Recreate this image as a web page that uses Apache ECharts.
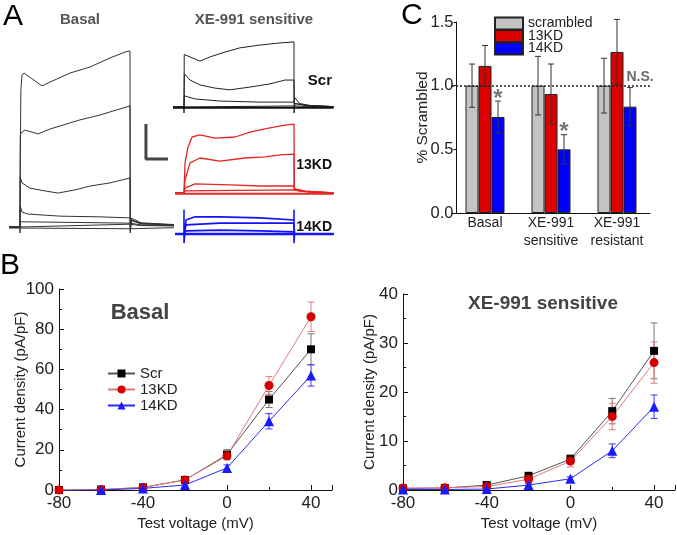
<!DOCTYPE html>
<html><head><meta charset="utf-8">
<script src="https://cdn.jsdelivr.net/npm/echarts/dist/echarts.min.js"></script>
<style>html,body{margin:0;padding:0;background:#fff}#chart{width:677px;height:535px}</style>
</head><body><div id="chart"></div>
<script>
// ================= DATA =================
// Panel B: I-V relations (mV -> pA/pF)
const voltages = [-80, -60, -40, -20, 0, 20, 40];
const basalScr    = [0, 0.2, 1.3, 5, 17.6, 45, 70];
const basalScrErr = [0.2, 0.2, 0.5, 0.8, 2.5, 4, 7.7];
const basal13     = [0, 0.2, 1.2, 5, 17, 52, 86.2];
const basal13Err  = [0.2, 0.2, 0.4, 0.8, 2, 4.5, 7.3];
const basal14     = [-0.3, 0, 0.8, 2.5, 11, 34.2, 57];
const basal14Err  = [0.2, 0.2, 0.3, 0.6, 1.5, 3.8, 5.3];
const xeScr    = [0.3, 0.4, 1.0, 2.9, 6.3, 16.1, 28.4];
const xeScrErr = [0.1, 0.1, 0.2, 0.4, 0.9, 2.6, 5.7];
const xe13     = [0.4, 0.45, 0.7, 2.2, 5.9, 15, 26];
const xe13Err  = [0.1, 0.1, 0.2, 0.4, 1.2, 2.7, 4.2];
const xe14     = [0.1, 0.1, 0.2, 1.0, 2.3, 8.0, 17];
const xe14Err  = [0.1, 0.1, 0.1, 0.3, 0.4, 1.4, 2.4];

// Panel C: normalised to scrambled
const cCategories = ['Basal', 'XE-991\nsensitive', 'XE-991\nresistant'];
const cScr    = [1, 1, 1];
const cScrErr = [0.17, 0.23, 0.215];
const c13     = [1.155, 0.935, 1.265];
const c13Err  = [0.16, 0.235, 0.255];
const c14     = [0.754, 0.50, 0.835];
const c14Err  = [0.125, 0.115, 0.15];
const sigLabels = ['*', '*', 'N.S.'];

// Panel A: current traces [time ms, current nA]
const basalT1 = [[-100,0],[0,0],[0,-0.17],[2,2.0],[8,3.9],[18,4.34],[36,4.4],[200,4.03],[273,4.14],[455,4.4],[636,4.57],[818,4.83],[955,5.0],[1000,5.03],[1002,-0.17],[1015,0.25],[1100,0.12],[1400,0.07]];
const basalT2 = [[-100,0],[0,0],[3,2.6],[9,2.69],[45,2.77],[164,2.66],[273,2.8],[545,3.06],[727,3.2],[1000,3.46],[1002,-0.1],[1015,0.2],[1100,0.1],[1400,0.06]];
const basalT3 = [[-100,0],[0,0],[2,1.43],[18,1.26],[91,1.11],[227,1.03],[345,0.97],[500,1.06],[636,1.17],[818,1.26],[1000,1.4],[1002,0],[1015,0.18],[1100,0.09],[1400,0.05]];
const basalT4 = [[-100,0],[0,0],[2,0.6],[18,0.43],[73,0.37],[364,0.31],[727,0.29],[1000,0.26],[1015,0.2],[1100,0.1],[1400,0.06]];
const basalT5 = [[-100,0],[0,0],[2,0.15],[1000,0.11],[1100,0.06],[1400,0.04]];
const basalT6 = [[-100,0],[0,0],[1000,0.08],[1100,0.04],[1400,0.03]];
const basalT7 = [[-100,-0.03],[0,-0.03],[1000,-0.05],[1400,-0.02]];

const scrT1 = [[-100,0],[0,0],[0,-0.17],[2,1.5],[9,1.49],[55,1.43],[145,1.31],[236,1.43],[373,1.57],[509,1.69],[691,1.77],[873,1.83],[1000,1.86],[1000,1.91],[1000,-0.17],[1010,0.1],[1100,0.05],[1360,0.01]];
const scrT2 = [[-100,0],[0,0],[3,0.95],[9,0.91],[55,0.77],[145,0.63],[282,0.54],[418,0.49],[600,0.57],[782,0.66],[918,0.77],[1000,0.77],[1003,0.1],[1100,0.05],[1360,0.01]];
const scrT3 = [[-100,0],[0,0],[3,0.32],[9,0.29],[100,0.23],[327,0.17],[691,0.14],[1000,0.14],[1010,0.26],[1050,0.1],[1150,0.04],[1360,0.01]];
const scrT4 = [[-100,0],[0,0],[9,0.03],[1000,0.03],[1100,0.02],[1360,0]];
const scrT5 = [[-100,-0.02],[1360,-0.02]];

const kd13T1 = [[-80,0],[0,0],[9,0.86],[36,1.31],[73,1.6],[145,1.66],[282,1.57],[464,1.6],[600,1.74],[782,1.86],[918,1.94],[1000,1.97],[1002,0.1],[1100,0.05],[1360,0]];
const kd13T2 = [[-80,0],[0,0],[9,0.37],[55,0.86],[145,1.0],[327,0.91],[555,1.0],[736,1.03],[873,1.09],[1000,1.11],[1002,0.08],[1100,0.04],[1360,0]];
const kd13T3 = [[-80,0],[0,0],[9,0.14],[100,0.26],[418,0.23],[691,0.2],[1000,0.2],[1010,0.12],[1100,0.05],[1360,0]];
const kd13T4 = [[-80,0],[0,0],[9,0.06],[1000,0.09],[1050,0.06],[1200,0.02],[1360,0]];
const kd13T5 = [[-80,-0.02],[1360,-0.02]];

const kd14T1 = [[-80,0],[0,0],[0,0.69],[0,-0.26],[18,0.4],[100,0.49],[327,0.49],[691,0.46],[1000,0.4],[1000,0.69],[1000,-0.26],[1005,0],[1360,0]];
const kd14T2 = [[-80,0],[0,0],[18,0.26],[327,0.31],[691,0.31],[1000,0.31],[1005,0],[1360,0]];
const kd14T3 = [[-80,0],[0,0],[18,0.09],[327,0.11],[691,0.09],[1000,0.06],[1005,0],[1360,0]];
const kd14T4 = [[-80,0],[1360,0]];

// scale bar: 1 nA / 200 ms
const scaleBar = [[1145,2.94],[1145,1.94],[1345,1.94]];

// ================= CHART =================
const FONT = 'Liberation Sans, Arial, Helvetica, sans-serif';
const chart = echarts.init(document.getElementById('chart'), null, {renderer:'canvas'});

function trace(data, gi, color, width) {
  return {type:'line', xAxisIndex:gi, yAxisIndex:gi, data:data, showSymbol:false, symbol:'none',
    lineStyle:{color:color, width:width}, silent:true, animation:false, z:2};
}
function hiddenX(gi){ return {type:'value', gridIndex:gi, min:-100, max:1400, show:false}; }
function hiddenY(gi, mn, mx){ return {type:'value', gridIndex:gi, min:mn, max:mx, show:false}; }

function ivErr(vals, errs, gi, color) {
  return {type:'custom', xAxisIndex:gi, yAxisIndex:gi, silent:true, z:1,
    data: voltages.map((v,i)=>[v, vals[i]-errs[i], vals[i]+errs[i]]),
    renderItem: function(p, api){
      const lo = api.coord([api.value(0), api.value(1)]);
      const hi = api.coord([api.value(0), api.value(2)]);
      const w = 3.5, st = {stroke:color, lineWidth:1};
      return {type:'group', children:[
        {type:'line', shape:{x1:lo[0],y1:lo[1],x2:hi[0],y2:hi[1]}, style:st},
        {type:'line', shape:{x1:hi[0]-w,y1:hi[1],x2:hi[0]+w,y2:hi[1]}, style:st},
        {type:'line', shape:{x1:lo[0]-w,y1:lo[1],x2:lo[0]+w,y2:lo[1]}, style:st}
      ]};
    }};
}
function ivLine(name, vals, gi, symbol, size, color, lineColor) {
  return {type:'line', name:name, xAxisIndex:gi, yAxisIndex:gi, z:3,
    data: voltages.map((v,i)=>[v, vals[i]]), symbol:symbol, symbolSize:size,
    itemStyle:{color:color}, lineStyle:{color:lineColor, width:1}, animation:false};
}
function barErr(vals, errs, offset) {
  return {type:'custom', xAxisIndex:6, yAxisIndex:6, silent:true, z:5,
    data: vals.map((v,i)=>[i, v-errs[i], v+errs[i]]),
    renderItem: function(p, api){
      const lo = api.coord([api.value(0), api.value(1)]);
      const hi = api.coord([api.value(0), api.value(2)]);
      const x = lo[0] + offset, w = 3, st = {stroke:'#333', lineWidth:1};
      return {type:'group', children:[
        {type:'line', shape:{x1:x,y1:lo[1],x2:x,y2:hi[1]}, style:st},
        {type:'line', shape:{x1:x-w,y1:hi[1],x2:x+w,y2:hi[1]}, style:st},
        {type:'line', shape:{x1:x-w,y1:lo[1],x2:x+w,y2:lo[1]}, style:st}
      ]};
    }};
}

function blackLine(){ return {show:true, onZero:false, lineStyle:{color:'#111', width:1}}; }
function ivX(gi){
  return {type:'value', gridIndex:gi, min:-80, max:50, interval:40,
    axisLine:blackLine(), axisTick:{show:true, inside:true, length:5, lineStyle:{color:'#111'}},
    minorTick:{show:true, splitNumber:2, length:3, lineStyle:{color:'#111'}},
    splitLine:{show:false}, minorSplitLine:{show:false},
    axisLabel:{fontFamily:FONT, fontSize:17, color:'#222', margin:5, showMaxLabel:false},
    name:'Test voltage (mV)', nameLocation:'middle', nameGap:26, nameMoveOverlap:false,
    nameTextStyle:{fontFamily:FONT, fontSize:15, color:'#222'}};
}
function ivY(gi, mx, iv, gap){
  return {type:'value', gridIndex:gi, min:0, max:mx, interval:iv,
    axisLine:blackLine(), axisTick:{show:true, inside:true, length:5, lineStyle:{color:'#111'}},
    minorTick:{show:true, splitNumber:2, length:3, lineStyle:{color:'#111'}},
    splitLine:{show:false},
    axisLabel:{fontFamily:FONT, fontSize:17, color:'#222', margin:5},
    name:'Current density (pA/pF)', nameLocation:'middle', nameGap:gap, nameMoveOverlap:false,
    nameTextStyle:{fontFamily:FONT, fontSize:15, color:'#222'}};
}

const series = [];
[basalT1,basalT2,basalT3,basalT4,basalT5,basalT6,basalT7].forEach(d=>series.push(trace(d,0,'#333',1)));
[scrT1,scrT2,scrT3,scrT4].forEach(d=>series.push(trace(d,1,'#222',1)));
series.push(trace(scrT5,1,'#111',2));
[kd13T1,kd13T2,kd13T3,kd13T4].forEach(d=>series.push(trace(d,2,'#e32626',1.3)));
series.push(trace(kd13T5,2,'#e32626',2));
[kd14T1,kd14T2,kd14T3].forEach(d=>series.push(trace(d,3,'#1212ff',1.6)));
series.push(trace(kd14T4,3,'#1212ff',2.5));
series.push(trace(scaleBar,0,'#444',3));

// Panel B
series.push(ivErr(basalScr, basalScrErr, 4, '#777'));
series.push(ivErr(basal13, basal13Err, 4, '#e67a7a'));
series.push(ivErr(basal14, basal14Err, 4, '#3a3aff'));
series.push(ivLine('Scr', basalScr, 4, 'rect', 8, '#000', '#555'));
series.push(ivLine('13KD', basal13, 4, 'circle', 9, '#d40000', '#e07a7a'));
series.push(ivLine('14KD', basal14, 4, 'triangle', 10, '#1a1aff', '#2a2aff'));
series.push(ivErr(xeScr, xeScrErr, 5, '#777'));
series.push(ivErr(xe13, xe13Err, 5, '#e67a7a'));
series.push(ivErr(xe14, xe14Err, 5, '#3a3aff'));
series.push(ivLine('Scr', xeScr, 5, 'rect', 8, '#000', '#555'));
series.push(ivLine('13KD', xe13, 5, 'circle', 9, '#d40000', '#e07a7a'));
series.push(ivLine('14KD', xe14, 5, 'triangle', 10, '#1a1aff', '#2a2aff'));

// Panel C
const barBorder = {borderColor:'#222', borderWidth:1};
series.push({type:'bar', name:'C-scrambled', xAxisIndex:6, yAxisIndex:6, data:cScr, barWidth:13, barGap:'0%',
  itemStyle:Object.assign({color:'#c4c4c4'}, barBorder), animation:false, z:2,
  markLine:{silent:true, symbol:'none', label:{show:false}, animation:false,
    lineStyle:{color:'#222', type:[2,2], width:1.6}, data:[{yAxis:1}]}});
series.push({type:'bar', name:'C-13KD', xAxisIndex:6, yAxisIndex:6, data:c13, barWidth:13, barGap:'0%',
  itemStyle:Object.assign({color:'#dd0000'}, barBorder), animation:false, z:2});
series.push({type:'bar', name:'C-14KD', xAxisIndex:6, yAxisIndex:6, data:c14, barWidth:13, barGap:'0%',
  itemStyle:Object.assign({color:'#0000ff'}, barBorder), animation:false, z:2});
series.push(barErr(cScr, cScrErr, -13));
series.push(barErr(c13, c13Err, 0));
series.push(barErr(c14, c14Err, 13));
series.push({type:'scatter', xAxisIndex:6, yAxisIndex:6, symbolSize:0, silent:true, z:6, animation:false,
  data: sigLabels.map((s,i)=>{
    const star = s === '*';
    return {value:[i, c14[i]+c14Err[i]], label:{show:true, position:'inside', formatter:s,
      offset: star ? [13,-2] : [23,-10], fontFamily:FONT, fontWeight:'bold',
      fontSize: star ? 24 : 14, color: star ? '#555' : '#444'}};
  })});

const option = {
  animation:false,
  backgroundColor:'#fff',
  textStyle:{fontFamily:FONT},
  grid:[
    {left:9, top:38, width:165, height:203},
    {left:173, top:37, width:165, height:84},
    {left:173, top:119.5, width:165, height:87.5},
    {left:173, top:199, width:165, height:49},
    {left:59, top:289, width:273, height:201},
    {left:403, top:294, width:272, height:196},
    {left:452, top:22, width:198, height:191}
  ],
  xAxis:[hiddenX(0), hiddenX(1), hiddenX(2), hiddenX(3), ivX(4), ivX(5),
    {type:'category', gridIndex:6, data:cCategories, axisLine:blackLine(), axisTick:{show:false},
     axisLabel:{fontFamily:FONT, fontSize:14, color:'#222', lineHeight:18, margin:1, interval:0, hideOverlap:false}}],
  yAxis:[hiddenY(0,-0.4,5.4), hiddenY(1,-0.4,2.0), hiddenY(2,-0.4,2.1), hiddenY(3,-0.4,1.0),
    ivY(4,100,20,30.5), ivY(5,40,10,25.5),
    {type:'value', gridIndex:6, min:0, max:1.5, interval:0.5, offset:-4.5, axisLine:blackLine(),
     axisTick:{show:true, length:3, lineStyle:{color:'#111'}}, splitLine:{show:false},
     axisLabel:{fontFamily:FONT, fontSize:16.5, color:'#222', margin:3, formatter:v=>v.toFixed(1)},
     name:'% Scrambled', nameLocation:'middle', nameGap:25.5, nameMoveOverlap:false,
     nameTextStyle:{fontFamily:FONT, fontSize:15.5, color:'#222'}}],
  legend:[
    {data:['Scr','13KD','14KD'], orient:'vertical', left:102, top:361, itemWidth:27, itemHeight:10,
     itemGap:1, selectedMode:false, textStyle:{fontFamily:FONT, fontSize:15, color:'#222'}},
    {data:['C-scrambled','C-13KD','C-14KD'], orient:'vertical', left:489, top:11.5, itemWidth:28, itemHeight:12,
     itemGap:-1.5, icon:'rect', selectedMode:false, formatter:n=>n.replace('C-',''),
     textStyle:{fontFamily:FONT, fontSize:14, color:'#222', lineHeight:12}}
  ],
  graphic:[
    {type:'text', left:3, top:2, style:{text:'A', font:'30px '+FONT, fill:'#000'}},
    {type:'text', left:0, top:251, style:{text:'B', font:'30px '+FONT, fill:'#000'}},
    {type:'text', left:401, top:1, style:{text:'C', font:'30px '+FONT, fill:'#000'}},
    {type:'text', x:80, y:20, style:{text:'Basal', font:'bold 15px '+FONT, fill:'#555', align:'center', verticalAlign:'middle'}},
    {type:'text', x:254, y:20, style:{text:'XE-991 sensitive', font:'bold 15px '+FONT, fill:'#555', align:'center', verticalAlign:'middle'}},
    {type:'text', x:332, y:81, style:{text:'Scr', font:'bold 15px '+FONT, fill:'#111', align:'right', verticalAlign:'middle'}},
    {type:'text', x:332, y:165, style:{text:'13KD', font:'bold 14px '+FONT, fill:'#111', align:'right', verticalAlign:'middle'}},
    {type:'text', x:332, y:227, style:{text:'14KD', font:'bold 14px '+FONT, fill:'#111', align:'right', verticalAlign:'middle'}},
    {type:'text', x:140, y:313, style:{text:'Basal', font:'bold 22px '+FONT, fill:'#444', align:'center', verticalAlign:'middle'}},
    {type:'text', x:543, y:304, style:{text:'XE-991 sensitive', font:'bold 19px '+FONT, fill:'#444', align:'center', verticalAlign:'middle'}}
  ],
  series:series
};
chart.setOption(option);
</script></body></html>
